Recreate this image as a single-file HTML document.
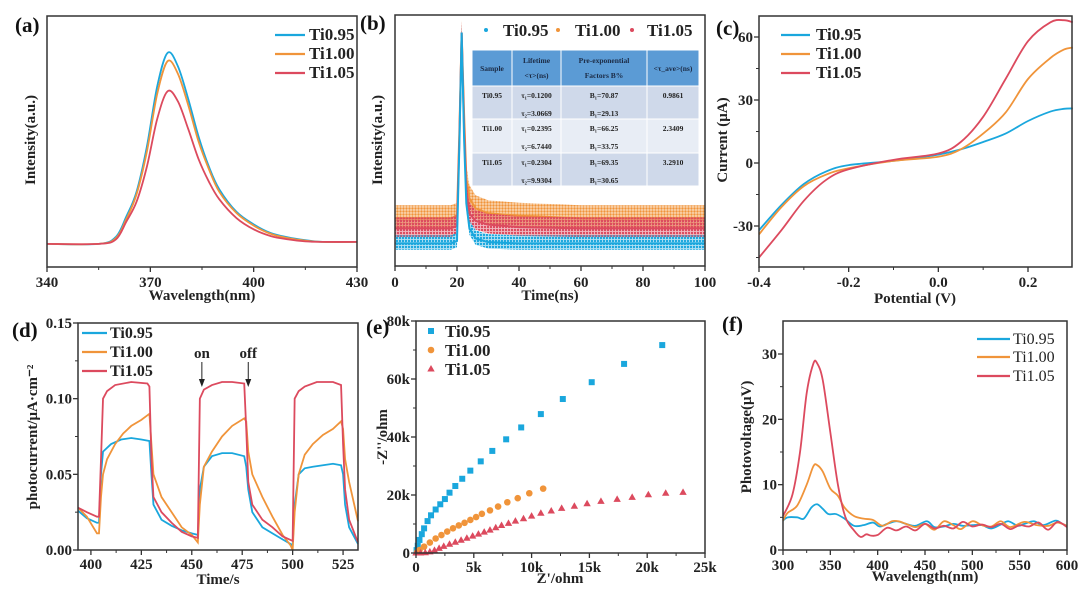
<!DOCTYPE html>
<html><head><meta charset="utf-8"><style>
body{margin:0;background:#fff}
svg{display:block;font-family:"Liberation Serif",serif}
.t{font-weight:bold;font-size:15px;fill:#222}
.lab{font-weight:bold;font-size:21px;fill:#111}
.ax{fill:none;stroke:#333;stroke-width:1.5}
</style></head><body>
<svg id="fig" width="1080" height="601" viewBox="0 0 1080 601">
<defs>
<pattern id="dots0" width="3" height="3" patternUnits="userSpaceOnUse"><rect width="3" height="3" fill="#1aa7dd" opacity="0.35"/><circle cx="1" cy="1" r="1.2" fill="#1aa7dd"/></pattern>
<pattern id="dots1" width="3" height="3" patternUnits="userSpaceOnUse"><rect width="3" height="3" fill="#f0943a" opacity="0.35"/><circle cx="1.5" cy="1.5" r="1.2" fill="#f0943a"/></pattern>
<pattern id="dots2" width="3" height="3" patternUnits="userSpaceOnUse"><rect width="3" height="3" fill="#dc4a5e" opacity="0.4"/><circle cx="2" cy="2" r="1.2" fill="#dc4a5e"/></pattern>
</defs>
</svg>
<script>
// ---- data ----
const colors=["#1aa7dd","#f0943a","#dc4a5e"];
const seriesNames=["Ti0.95","Ti1.00","Ti1.05"];
// (a) PL
const plX=[340,355,360,363,366,369,372,375,378,381,384,387,390,395,400,405,410,415,420,430];
const plA=[0.092,0.092,0.12,0.2,0.3,0.48,0.72,0.853,0.8,0.67,0.52,0.4,0.31,0.22,0.17,0.135,0.118,0.107,0.1,0.1];
const plB=[0.092,0.092,0.115,0.19,0.29,0.46,0.69,0.82,0.77,0.645,0.5,0.39,0.3,0.215,0.165,0.132,0.115,0.105,0.1,0.1];
const plC=[0.092,0.092,0.11,0.18,0.26,0.4,0.59,0.70,0.66,0.55,0.43,0.34,0.27,0.195,0.15,0.123,0.11,0.102,0.1,0.1];
// (b) TRPL decay (normalized)
const trT=[0,18,20,20.8,21.5,22.3,23,24,26,30,40,60,80,100];
const trA=[0.09,0.09,0.1,0.5,0.93,0.5,0.25,0.15,0.11,0.095,0.09,0.09,0.09,0.09];
const trB=[0.19,0.19,0.2,0.55,0.93,0.6,0.35,0.27,0.23,0.21,0.2,0.19,0.19,0.19];
const trC=[0.15,0.15,0.16,0.52,0.93,0.55,0.3,0.21,0.18,0.165,0.155,0.15,0.15,0.15];
// (c) LSV
const lsvX=[-0.4,-0.35,-0.3,-0.25,-0.2,-0.1,0,0.05,0.1,0.15,0.2,0.25,0.28,0.3];
const lsvA=[-32,-20,-10,-4,-1,1,4,6.5,10,14,20,24.5,25.8,26];
const lsvB=[-34,-21,-11,-5.5,-2.5,1,3,6.5,14,24,40,50,54,55];
const lsvC=[-45,-32,-18,-8,-3,1.5,4.5,10,22,40,58,67,68,67];
// (d) photocurrent
const pcT_A=[393.6,398,403,404,405,406,410,415,420,425,429,430,431,435,440,445,450,453,454,456,460,465,470,476,477,478,480,485,490,495,499,500,501,503,506,510,515,520,524,525,526,528,532.4];
const pcA=[0.026,0.021,0.018,0.018,0.05,0.065,0.07,0.073,0.074,0.073,0.072,0.05,0.03,0.02,0.016,0.013,0.011,0.01,0.04,0.055,0.062,0.064,0.064,0.062,0.055,0.04,0.025,0.015,0.011,0.007,0.004,0.003,0.03,0.05,0.054,0.055,0.056,0.057,0.056,0.05,0.03,0.015,0.004];
const pcT_B=[393.6,398,403,404,405,406,408,412,416,420,425,429,430,431,435,440,445,450,453,454,456,460,465,470,476,477,478,480,485,490,495,499,500,501,503,506,510,515,520,524,525,526,528,532.4];
const pcB=[0.028,0.022,0.011,0.011,0.035,0.05,0.06,0.07,0.077,0.082,0.086,0.09,0.07,0.05,0.035,0.025,0.015,0.01,0.005,0.03,0.055,0.065,0.075,0.082,0.087,0.085,0.065,0.05,0.035,0.022,0.01,0.003,0,0.025,0.05,0.063,0.07,0.076,0.08,0.085,0.08,0.06,0.045,0.019];
const pcT_C=[393.6,398,403,404,405,406,408,412,420,428,429,430,431,435,440,445,450,453,454,456,460,465,470,476,477,478,480,485,490,495,500,501,503,506,512,520,524,525,526,528,532.4];
const pcC=[0.028,0.025,0.022,0.022,0.06,0.1,0.105,0.109,0.111,0.11,0.108,0.06,0.035,0.025,0.018,0.012,0.009,0.008,0.1,0.106,0.109,0.111,0.111,0.11,0.08,0.045,0.03,0.02,0.015,0.009,0.006,0.1,0.105,0.108,0.111,0.111,0.109,0.07,0.04,0.02,0.005];
// (e) Nyquist (k ohm)
const nyAx=[0.05,0.15,0.3,0.5,0.7,1.0,1.3,1.7,2.1,2.5,2.9,3.4,4.0,4.7,5.6,6.6,7.8,9.1,10.8,12.7,15.2,18.0,21.3];
const nyAy=[1,2.5,4.5,6.5,8.5,11,13,15,16.8,18.6,20.8,23.1,25.6,28.4,31.6,35.2,39.2,43.3,47.9,53.1,58.9,65.2,71.7];
const nyBx=[0.1,0.3,0.7,1.2,1.7,2.2,2.7,3.2,3.7,4.2,4.7,5.2,5.7,6.4,7.1,7.9,8.8,9.8,11.0];
const nyBy=[0.3,1,2.2,3.6,5,6.2,7.4,8.5,9.5,10.4,11.4,12.4,13.5,14.7,16.0,17.5,18.9,20.6,22.2];
const nyCx=[0,0.4,0.8,1.2,1.6,2.0,2.4,2.9,3.4,3.9,4.4,4.9,5.4,5.9,6.4,6.9,7.4,8.0,8.6,9.3,10.0,10.8,11.7,12.6,13.7,14.8,16.0,17.4,18.7,20.1,21.6,23.1];
const nyCy=[0,0,0.1,0.4,0.9,1.6,2.3,3.0,3.7,4.4,5.1,5.8,6.5,7.2,7.9,8.7,9.5,10.2,11.0,11.8,12.7,13.7,14.5,15.4,16.1,17.0,17.8,18.5,19.2,20.1,20.6,20.9];
// (f) SPV
const spvXA=[300,305,315,322,330,336,342,348,356,365,375,385,395,402,410,420,430,440,452,460,470,480,490,500,510,520,530,538,548,555,565,575,588,595,600];
const spvA=[4.5,5,5,4.8,6.5,7,6.3,5.5,5.5,4.8,3.7,3.8,4.2,3.6,4,4.4,4,3.7,4.4,3.5,3.6,4,3.7,3.8,3.8,3.3,3.9,4.4,3.7,4,4.4,3.8,4.5,4,3.7];
const spvXB=[300,305,315,325,332,336,342,350,358,365,375,385,395,405,415,422,430,440,450,460,470,480,488,500,510,520,530,540,555,568,580,590,600];
const spvB=[4.5,5.7,6.8,10,12.8,13,12,9.4,8.3,6.5,5.2,4.8,4.6,3.7,4.4,4.4,4,3.5,4,3.1,4.4,3.8,3.2,4.4,3.8,3.6,4.4,3.5,4.3,3.8,3.7,4.2,3.7];
const spvXC=[300,310,318,325,332,336,342,350,358,366,375,382,388,393,400,410,420,430,440,450,460,470,480,490,500,510,520,530,540,550,560,570,580,590,600];
const spvC=[5.2,8.5,15,24,28.5,28.6,26,18,10,5,3,2,2.4,2.2,2.3,3.4,3,3.6,3,4,3.3,3.7,3.3,4.3,3.6,3.9,3.5,4,3.2,3.8,3.6,4.2,3.1,4.3,3.5];
const tableHead=["Sample","Lifetime|<τ>(ns)","Pre-exponential|Factors B%","<τ_ave>(ns)"];
const tableRows=[["Ti0.95","τ₁=0.1200|τ₂=3.0669","B₁=70.87|B₁=29.13","0.9861"],["Ti1.00","τ₁=0.2395|τ₂=6.7440","B₁=66.25|B₁=33.75","2.3409"],["Ti1.05","τ₁=0.2304|τ₂=9.9304","B₁=69.35|B₁=30.65","3.2910"]];

// ---- helpers ----
const svg=document.getElementById('fig');
const NS="http://www.w3.org/2000/svg";
function mk(tag,attrs,parent,text){const e=document.createElementNS(NS,tag);for(const k in attrs)e.setAttribute(k,attrs[k]);if(text!==undefined)e.textContent=text;(parent||svg).appendChild(e);return e;}
function lin(d0,d1,r0,r1){return v=>r0+(v-d0)/(d1-d0)*(r1-r0);}
function smooth(p){let d=`M${p[0][0]},${p[0][1]}`;for(let i=0;i<p.length-1;i++){const p0=p[i-1]||p[i],p1=p[i],p2=p[i+1],p3=p[i+2]||p2;d+=`C${p1[0]+(p2[0]-p0[0])/6},${p1[1]+(p2[1]-p0[1])/6} ${p2[0]-(p3[0]-p1[0])/6},${p2[1]-(p3[1]-p1[1])/6} ${p2[0]},${p2[1]}`;}return d;}
function box(g,L,T,R,B){const r=mk('rect',{x:L,y:T,width:R-L,height:B-T,class:'ax'},g);}
function xticks(g,sx,vals,labels,B,ly,minor){vals.forEach((v,i)=>{mk('line',{x1:sx(v),x2:sx(v),y1:B,y2:B+5,stroke:'#333','stroke-width':1.3},g);const t=mk('text',{x:sx(v),y:ly,class:'t','text-anchor':'middle'},g,labels[i]);});(minor||[]).forEach(v=>mk('line',{x1:sx(v),x2:sx(v),y1:B,y2:B+3,stroke:'#333','stroke-width':1},g));}
function yticks(g,sy,vals,labels,L,minor){vals.forEach((v,i)=>{mk('line',{x1:L-5,x2:L,y1:sy(v),y2:sy(v),stroke:'#333','stroke-width':1.3},g);if(labels){const t=mk('text',{x:L-6,y:sy(v)+5,class:'t','text-anchor':'end'},g,labels[i]);}});(minor||[]).forEach(v=>mk('line',{x1:L-3,x2:L,y1:sy(v),y2:sy(v),stroke:'#333','stroke-width':1},g));}
function title(g,x,y,txt,rot,name){const t=mk('text',{x:x,y:y,class:'t','text-anchor':'middle',transform:rot?`rotate(-90 ${x} ${y})`:''},g,txt);return t;}
function panelLabel(x,y,txt){const t=mk('text',{x:x,y:y,class:'lab'},svg,txt);}
function curve(g,xs,ys,sx,sy,c,name,isSmooth){const p=xs.map((x,i)=>[sx(x),sy(ys[i])]);const e=mk('path',{d:isSmooth?smooth(p):'M'+p.map(q=>q.join(',')).join('L'),fill:'none',stroke:c,'stroke-width':1.8},g);}
function lineLegend(g,x1,x2,tx,ys,bold,size){ys.forEach((y,i)=>{const gg=mk('g',{},g);mk('line',{x1:x1,x2:x2,y1:y,y2:y,stroke:colors[i],'stroke-width':2.2},gg);mk('text',{x:tx,y:y+5,'font-size':size,'font-weight':bold?'bold':'normal',fill:'#222'},gg,seriesNames[i]);});}

// ---- (a) ----
{const g=mk('g',{});
const L=47,R=357,T=16,B=267,sx=lin(340,430,L,R),sy=lin(0,1,B,T);
[plA,plB,plC].forEach((d,i)=>curve(g,plX,d,sx,sy,colors[i],'pl-line-'+seriesNames[i],true));
box(g,L,T,R,B);xticks(g,sx,[340,370,400,430],["340","370","400","430"],B,287,[355,385,415]);
title(g,35,140,"Intensity(a.u.)",true,'y-axis-title');title(g,202,300,"Wavelength(nm)",false,'x-axis-title');
lineLegend(g,275,305,309,[35,54,73],true,17);}
panelLabel(15,32,"(a)");

// ---- (b) ----
{const g=mk('g',{});
const L=395,R=705,T=15,B=266,sx=lin(0,100,L,R),sy=lin(0,1,B,T);
const halfW=[8,13,11];
[[trB,1],[trC,2],[trA,0]].forEach(([d,i])=>{const p=trT.map((x,k)=>[sx(x),sy(d[k])]);
const top=p.map(q=>[q[0],q[1]-halfW[i]]),bot=p.map(q=>[q[0],q[1]+halfW[i]*0.8]).reverse();
const poly=top.concat(bot).map(q=>q.join(',')).join(' ');
const e=mk('polygon',{points:poly,fill:`url(#dots${i})`},g);
const e2=mk('path',{d:'M'+p.map(q=>q.join(',')).join('L'),fill:'none',stroke:colors[i],'stroke-width':2},g);});
box(g,L,T,R,B);xticks(g,sx,[0,20,40,60,80,100],["0","20","40","60","80","100"],B,287,[10,30,50,70,90]);
title(g,382,140,"Intensity(a.u.)",true,'y-axis-title');title(g,550,300,"Time(ns)",false,'x-axis-title');
[[486,503],[558,575],[632,647]].forEach(([mx,tx],i)=>{const gg=mk('g',{},g);mk('circle',{cx:mx,cy:30,r:2,fill:colors[i]},gg);mk('text',{x:tx,y:36,'font-size':17,'font-weight':'bold',fill:'#222'},gg,seriesNames[i]);});
// table
const tg=mk('g',{},g);
const cx=[472,512,561,647,699],ry=[50,86,119,153,186],fills=["#5b9bd5","#cfd9ea","#e8edf5","#cfd9ea"];
for(let r=0;r<4;r++){mk('rect',{x:472,y:ry[r],width:227,height:ry[r+1]-ry[r],fill:fills[r],stroke:'#fff','stroke-width':1},tg);
const cells=r==0?tableHead:tableRows[r-1];
cells.forEach((c,ci)=>{mk('rect',{x:cx[ci],y:ry[r],width:cx[ci+1]-cx[ci],height:ry[r+1]-ry[r],fill:'none',stroke:'#fff','stroke-width':1},tg);
const parts=c.split('|');const mid=(cx[ci]+cx[ci+1])/2;const h=ry[r+1]-ry[r];
parts.forEach((s,k)=>{const yy=parts.length==1?(r==0?ry[r]+h/2+3:ry[r]+12):ry[r]+(r==0?13:12)+k*(r==0?15:18);mk('text',{x:mid,y:yy,'font-size':7.5,'font-weight':'bold','text-anchor':'middle',fill:r==0?'#1b2a44':'#222'},tg,s);});});}}
panelLabel(360,30,"(b)");

// ---- (c) ----
{const g=mk('g',{});
const L=759,R=1072,T=16,B=267,sx=lin(-0.4,0.2,759,1028),sy=lin(0,60,163,37);
[lsvA,lsvB,lsvC].forEach((d,i)=>curve(g,lsvX,d,sx,sy,colors[i],'lsv-line-'+seriesNames[i],true));
box(g,L,T,R,B);xticks(g,sx,[-0.4,-0.2,0,0.2],["-0.4","-0.2","0.0","0.2"],B,287,[-0.3,-0.1,0.1]);
yticks(g,sy,[-30,0,30,60],["-30","0","30","60"],L,[-45,-15,15,45]);
title(g,727,140,"Current (μA)",true,'y-axis-title');title(g,915,303,"Potential (V)",false,'x-axis-title');
lineLegend(g,781,810,816,[35,54,73],true,17);}
panelLabel(716,35,"(c)");

// ---- (d) ----
{const g=mk('g',{});
const L=78,R=358,T=323,B=550,sx=lin(393.6,532.4,L,R),sy=lin(0,0.15,B,T);
[[pcT_A,pcA],[pcT_B,pcB],[pcT_C,pcC]].forEach(([t,d],i)=>curve(g,t,d,sx,sy,colors[i],'photocurrent-'+seriesNames[i],false));
box(g,L,T,R,B);xticks(g,sx,[400,425,450,475,500,525],["400","425","450","475","500","525"],B,569,[412.5,437.5,462.5,487.5,512.5]);
yticks(g,sy,[0,0.05,0.1,0.15],["0.00","0.05","0.10","0.15"],L,[0.025,0.075,0.125]);
title(g,37,437,"photocurrent/μA·cm⁻²",true,'y-axis-title');title(g,218,584,"Time/s",false,'x-axis-title');
lineLegend(g,82,107,110,[333,352,371],true,16);
[[455,"on"],[478,"off"]].forEach(([t,s])=>{const gg=mk('g',{},g);mk('text',{x:sx(t),y:358,class:'t','text-anchor':'middle'},gg,s);mk('line',{x1:sx(t),x2:sx(t),y1:362,y2:384,stroke:'#222','stroke-width':1},gg);mk('path',{d:`M${sx(t)-3},${379}L${sx(t)+3},${379}L${sx(t)},${387}Z`,fill:'#222'},gg);});}
panelLabel(12,337,"(d)");

// ---- (e) ----
{const g=mk('g',{});
const L=416,R=705,T=321,B=553,sx=lin(0,25,L,R),sy=lin(0,80,B,T);
nyAx.forEach((x,i)=>{const e=mk('rect',{x:sx(x)-3,y:sy(nyAy[i])-3,width:6,height:6,fill:colors[0]},g);});
nyBx.forEach((x,i)=>{const e=mk('circle',{cx:sx(x),cy:sy(nyBy[i]),r:3.3,fill:colors[1]},g);});
nyCx.forEach((x,i)=>{const X=sx(x),Y=sy(nyCy[i]);const e=mk('path',{d:`M${X},${Y-4}L${X+3.7},${Y+2.5}L${X-3.7},${Y+2.5}Z`,fill:colors[2]},g);});
box(g,L,T,R,B);xticks(g,sx,[0,5,10,15,20,25],["0","5k","10k","15k","20k","25k"],B,572,[2.5,7.5,12.5,17.5,22.5]);
yticks(g,sy,[0,20,40,60,80],["0","20k","40k","60k","80k"],L,[10,30,50,70]);
title(g,387,437,"-Z''/ohm",true,'y-axis-title');title(g,560,583,"Z'/ohm",false,'x-axis-title');
const lg=[[431,331,'s'],[431,350,'c'],[431,369,'t']];
lg.forEach(([x,y,m],i)=>{const gg=mk('g',{},g);
if(m=='s')mk('rect',{x:x-3,y:y-3,width:6,height:6,fill:colors[i]},gg);else if(m=='c')mk('circle',{cx:x,cy:y,r:3.3,fill:colors[i]},gg);else mk('path',{d:`M${x},${y-4}L${x+3.7},${y+2.5}L${x-3.7},${y+2.5}Z`,fill:colors[i]},gg);
mk('text',{x:445,y:y+6,'font-size':17,'font-weight':'bold',fill:'#222'},gg,seriesNames[i]);});}
panelLabel(366,334,"(e)");

// ---- (f) ----
{const g=mk('g',{});
const L=783,R=1067,T=321,B=550,sx=lin(300,600,L,R),sy=lin(0,30,B,354);
[[spvXA,spvA],[spvXB,spvB],[spvXC,spvC]].forEach(([x,d],i)=>curve(g,x,d,sx,sy,colors[i],'spv-line-'+seriesNames[i],true));
box(g,L,T,R,B);xticks(g,sx,[300,350,400,450,500,550,600],["300","350","400","450","500","550","600"],B,570,[325,375,425,475,525,575]);
yticks(g,sy,[0,10,20,30],["0","10","20","30"],L,[5,15,25]);
title(g,751,437,"Photovoltage(μV)",true,'y-axis-title');title(g,925,581,"Wavelength(nm)",false,'x-axis-title');
lineLegend(g,977,1010,1013,[339,357,376],false,16);}
panelLabel(722,331,"(f)");
</script>
</body></html>
